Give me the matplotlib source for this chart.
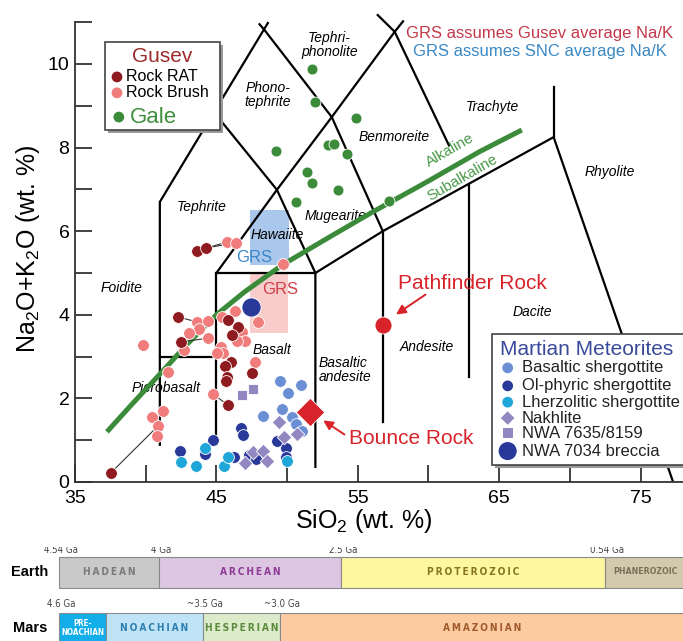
import numpy as np
import matplotlib
matplotlib.use("Agg")
import matplotlib.pyplot as plt
from matplotlib.patches import Rectangle

plt.rcParams['font.family'] = ['Liberation Sans', 'DejaVu Sans']
plt.rcParams['mathtext.fontset'] = 'custom'
plt.rcParams['mathtext.rm'] = 'Liberation Sans'
plt.rcParams['mathtext.it'] = 'Liberation Sans:italic'

# ---- data (SiO2 wt.%, Na2O+K2O wt.%) ----
gale_sio2 = [51.75, 51.96, 49.20, 52.88, 53.30, 54.86, 54.22, 51.40, 51.75, 53.59, 50.62, 57.19]
gale_alk = [9.88, 9.09, 7.92, 8.06, 8.09, 8.71, 7.85, 7.42, 7.15, 6.99, 6.70, 6.72]

rat_sio2 = [42.28, 42.49, 45.81, 46.52, 46.10, 46.02, 45.60, 45.74, 45.67, 47.51, 45.81, 37.54, 43.62, 44.26]
rat_alk = [3.95, 3.35, 3.88, 3.71, 3.52, 2.87, 2.78, 2.51, 2.42, 2.61, 1.84, 0.22, 5.53, 5.60]

brush_sio2 = [43.62, 44.40, 43.76, 43.06, 44.40, 42.70, 41.57, 39.81, 44.75, 46.31, 45.39, 46.80, 47.01,
              46.45, 45.32, 45.46, 45.04, 47.72, 47.93, 41.22, 40.44, 40.87, 40.80, 45.74, 46.38, 49.70]
brush_alk = [3.83, 3.85, 3.66, 3.56, 3.44, 3.16, 2.63, 3.28, 2.11, 4.09, 3.95, 3.59, 3.37,
             3.37, 3.23, 3.09, 3.09, 2.87, 3.83, 1.70, 1.56, 1.34, 1.10, 5.74, 5.72, 5.22]

# RAT -> Brush tie lines (index into rat / brush lists)
ties = [(11, 21), (0, 0), (1, 4), (12, 23), (13, 24), (10, 8)]

bas_sio2 = [49.49, 50.97, 50.05, 49.63, 48.29, 50.34, 50.62, 51.04]
bas_alk = [2.42, 2.32, 2.13, 1.75, 1.58, 1.56, 1.39, 1.22]

olp_sio2 = [42.42, 44.19, 44.75, 46.73, 46.87, 46.24, 47.30, 47.79, 49.28, 49.91, 49.91]
olp_alk = [0.74, 0.67, 1.00, 1.29, 1.12, 0.60, 0.65, 0.55, 0.98, 0.81, 0.60]

lhz_sio2 = [42.49, 43.55, 44.19, 45.53, 45.81, 49.98]
lhz_alk = [0.48, 0.38, 0.81, 0.38, 0.60, 0.50]

nak_sio2 = [47.01, 47.58, 48.29, 48.57, 49.42, 49.77, 50.69]
nak_alk = [0.45, 0.72, 0.74, 0.50, 1.44, 1.08, 1.15]

nwa7635_sio2 = [46.80, 47.58]
nwa7635_alk = [2.08, 2.22]

nwa7034 = (47.44, 4.19)
pathfinder = (56.77, 3.76)
bounce = (51.60, 1.67)

# GRS ranges (x0, x1, y0, y1)
grs_snc = (47.37, 50.10, 5.19, 6.51)
grs_gusev = (47.37, 50.05, 3.56, 5.00)

# alkaline / subalkaline divide (Irvine & Baragar curve)
alk_line_x = [37.26, 39.0, 41.0, 43.0, 45.0, 47.0, 49.7, 53.0, 56.0, 60.0, 63.6, 66.6]
alk_line_y = [1.20, 1.85, 2.58, 3.32, 4.00, 4.55, 5.20, 5.86, 6.45, 7.20, 7.90, 8.42]

# TAS field boundaries (as drawn)
tas_lines = [
    [(41.0, 0.89), (41.0, 6.70), (48.64, 10.98)],
    [(41.0, 3.0), (45.0, 3.0)],
    [(45.0, 0.89), (45.0, 5.0), (52.0, 5.0)],
    [(52.0, 0.36), (52.0, 5.0), (56.77, 6.0), (68.85, 8.25), (77.3, 0.0)],
    [(56.77, 1.44), (56.77, 6.0)],
    [(62.84, 2.51), (62.84, 7.13)],
    [(68.85, 8.25), (68.85, 9.45)],
    [(45.0, 5.0), (49.28, 6.99), (53.16, 8.73), (57.61, 10.77), (58.2, 11.02)],
    [(44.82, 8.85), (49.28, 6.99), (52.0, 5.0)],
    [(48.05, 10.95), (48.43, 10.80), (53.16, 8.73), (56.77, 6.0)],
    [(56.41, 11.17), (57.61, 10.77), (61.45, 8.05)],
]

field_names = ["Tephri-\nphonolite", "Phono-\ntephrite", "Tephrite", "Hawaiite", "Mugearite",
               "Benmoreite", "Trachyte", "Rhyolite", "Dacite", "Andesite", "Basalt",
               "Foidite", "Picrobasalt"]
field_x = [53.0, 48.64, 43.97, 49.28, 53.4, 57.54, 64.54, 72.8, 67.37, 59.9, 48.92, 38.32, 41.43]
field_y = [10.45, 9.26, 6.58, 5.91, 6.36, 8.25, 8.97, 7.42, 4.07, 3.23, 3.16, 4.64, 2.25]

# geologic timelines (schematic bar widths)
earth_eons = ["HADEAN", "ARCHEAN", "PROTEROZOIC", "PHANEROZOIC"]
earth_ages = ["4.54 Ga", "4 Ga", "2.5 Ga", "0.54 Ga"]
earth_span = [100, 182, 264, 80]
earth_fill = ["#c9c9c9", "#dcc6e2", "#fdf7a0", "#d3c9ad"]
earth_ink = ["#7a7a7a", "#8e3a96", "#857520", "#7a6e58"]

mars_eons = ["PRE-\nNOACHIAN", "NOACHIAN", "HESPERIAN", "AMAZONIAN"]
mars_ages = ["4.6 Ga", "", "~3.5 Ga", "~3.0 Ga"]
mars_span = [47, 97, 77, 405]
mars_fill = ["#11aeea", "#bfe4f7", "#dcebc9", "#fccba2"]
mars_ink = ["white", "#2d7fae", "#5b8a3e", "#a05a2c"]

C_RAT = "#8e1b1f"
C_BRUSH = "#f07c7c"
C_GALE = "#3b8b3b"
C_BAS = "#6b8fd4"
C_OLP = "#28399a"
C_LHZ = "#1fa6d8"
C_NAK = "#9387c2"
C_RED = "#d8232a"

fig = plt.figure(figsize=(6.83, 6.41), dpi=100)
ax = fig.add_axes([75 / 683, 159 / 641, 608 / 683, 482 / 641])
ax.set_xlim(35, 78)
ax.set_ylim(0, 11.53)

for s in ["top", "right"]:
    ax.spines[s].set_visible(False)
for s in ["left", "bottom"]:
    ax.spines[s].set_linewidth(1.3)
    ax.spines[s].set_color("#333333")
ax.spines["left"].set_bounds(0, 11)

xt = np.arange(35, 80, 5)
ax.set_xticks(xt)
ax.set_xticklabels([str(v) if (v - 35) % 10 == 0 else "" for v in xt])
yt = np.arange(0, 12)
ax.set_yticks(yt)
ax.set_yticklabels([str(v) if v % 2 == 0 else "" for v in yt])
ax.tick_params(direction="in", length=12, width=1.3, color="#333333", labelsize=14)
ax.tick_params(axis="x", pad=6)
ax.tick_params(axis="y", pad=4)

# GRS boxes
x0, x1, y0, y1 = grs_snc
ax.add_patch(Rectangle((x0, y0), x1 - x0, y1 - y0, facecolor="#aac8ec", edgecolor="none", zorder=1))
x0, x1, y0, y1 = grs_gusev
ax.add_patch(Rectangle((x0, y0), x1 - x0, y1 - y0, facecolor="#f9cccc", edgecolor="none", zorder=1))
ax.text(47.7, 5.38, "GRS", color="#3a86c8", fontsize=12, ha="center", va="center", zorder=2)
ax.text(49.5, 4.6, "GRS", color="#d0404a", fontsize=12, ha="center", va="center", zorder=2)

for seg in tas_lines:
    xs, ys = zip(*seg)
    ax.plot(xs, ys, color="black", lw=1.6, zorder=2, solid_joinstyle="miter")

for name, fx, fy in zip(field_names, field_x, field_y):
    ax.text(fx, fy, name, fontsize=10, style="italic", ha="center", va="center",
            linespacing=0.95, zorder=3)
ax.text(52.2, 2.68, "Basaltic\nandesite", fontsize=10, style="italic", ha="left",
        va="center", linespacing=0.95, zorder=3)

ax.plot(alk_line_x, alk_line_y, color=C_GALE, lw=3.6, zorder=3, solid_capstyle="butt",
        solid_joinstyle="round")
ax.text(61.5, 7.94, "Alkaline", color="#4a9a4a", fontsize=11, rotation=30,
        ha="center", va="center", zorder=3)
ax.text(62.42, 7.28, "Subalkaline", color="#4a9a4a", fontsize=11, rotation=30,
        ha="center", va="center", zorder=3)

# tie lines
for r, b in ties:
    ax.plot([rat_sio2[r], brush_sio2[b]], [rat_alk[r], brush_alk[b]], color="#333333",
            lw=0.8, zorder=3.5)

pt = dict(edgecolors="white", linewidths=0.6, zorder=4)
ax.scatter(brush_sio2, brush_alk, s=72, c=C_BRUSH, **pt)
ax.scatter(rat_sio2, rat_alk, s=72, c=C_RAT, **pt)
ax.scatter(gale_sio2, gale_alk, s=62, c=C_GALE, **pt)
ax.scatter(bas_sio2, bas_alk, s=72, c=C_BAS, **pt)
ax.scatter(olp_sio2, olp_alk, s=72, c=C_OLP, **pt)
ax.scatter(lhz_sio2, lhz_alk, s=72, c=C_LHZ, **pt)
ax.scatter(nak_sio2, nak_alk, s=55, c=C_NAK, marker="D", **pt)
ax.scatter(nwa7635_sio2, nwa7635_alk, s=60, c=C_NAK, marker="s", **pt)
ax.scatter([nwa7034[0]], [nwa7034[1]], s=190, c=C_OLP, **pt)
ax.scatter([pathfinder[0]], [pathfinder[1]], s=150, c=C_RED, **pt)
ax.scatter([bounce[0]], [bounce[1]], s=210, c=C_RED, marker="D", **pt)

# rock callouts
ax.annotate("", xy=(57.54, 3.97), xytext=(59.95, 4.52),
            arrowprops=dict(arrowstyle="-|>", color=C_RED, lw=1.4, mutation_scale=14), zorder=5)
ax.text(63.13, 4.76, "Pathfinder Rock", color=C_RED, fontsize=15, ha="center", va="center")
ax.annotate("", xy=(52.39, 1.51), xytext=(54.22, 1.10),
            arrowprops=dict(arrowstyle="-|>", color=C_RED, lw=1.4, mutation_scale=14), zorder=5)
ax.text(58.78, 1.05, "Bounce Rock", color=C_RED, fontsize=15, ha="center", va="center")

ax.text(67.86, 10.74, "GRS assumes Gusev average Na/K", color="#c4394a", fontsize=12,
        ha="center", va="center")
ax.text(67.86, 10.29, "GRS assumes SNC average Na/K", color="#3a88c4", fontsize=12,
        ha="center", va="center")

# Gusev / Gale legend box
ax.add_patch(Rectangle((37.32, 8.34), 8.13, 2.11, facecolor="#9a9a9a", edgecolor="none", zorder=6))
ax.add_patch(Rectangle((37.12, 8.42), 8.13, 2.11, facecolor="white", edgecolor="#444444",
                       lw=1.2, zorder=6.5))
ax.text(41.15, 10.17, "Gusev", color="#9b2a2a", fontsize=15, ha="center", va="center", zorder=7)
ax.scatter([37.97], [9.69], s=60, c=C_RAT, zorder=7, edgecolors="none")
ax.text(38.6, 9.69, "Rock RAT", fontsize=11.5, ha="left", va="center", zorder=7)
ax.scatter([37.97], [9.31], s=60, c=C_BRUSH, zorder=7, edgecolors="none")
ax.text(38.6, 9.31, "Rock Brush", fontsize=11.5, ha="left", va="center", zorder=7)
ax.scatter([38.1], [8.73], s=60, c=C_GALE, zorder=7, edgecolors="none")
ax.text(38.85, 8.73, "Gale", color="#3f8f3f", fontsize=16, ha="left", va="center", zorder=7)

# Martian meteorite legend box
ax.add_patch(Rectangle((64.67, 0.33), 14, 3.13, facecolor="#9a9a9a", edgecolor="none", zorder=6))
ax.add_patch(Rectangle((64.47, 0.41), 14, 3.13, facecolor="white", edgecolor="#444444",
                       lw=1.2, zorder=6.5))
ax.text(65.03, 3.16, "Martian Meteorites", color="#3a4a9a", fontsize=15, ha="left",
        va="center", zorder=7)
leg_items = [("Basaltic shergottite", C_BAS, "o", 60),
             ("Ol-phyric shergottite", C_OLP, "o", 60),
             ("Lherzolitic shergottite", C_LHZ, "o", 60),
             ("Nakhlite", C_NAK, "D", 48),
             ("NWA 7635/8159", C_NAK, "s", 50),
             ("NWA 7034 breccia", C_OLP, "o", 170)]
leg_y = [2.73, 2.30, 1.91, 1.53, 1.17, 0.74]
for (lab, col, mk, sz), ly in zip(leg_items, leg_y):
    ax.scatter([65.6], [ly], s=sz, c=col, marker=mk, zorder=7, edgecolors="none")
    ax.text(66.6, ly, lab, fontsize=12, color="#222222", ha="left", va="center", zorder=7)

fig.text(364 / 683, 1 - 521 / 641, "SiO$_2$ (wt. %)", fontsize=18, ha="center", va="center")
fig.text(28 / 683, 1 - 249 / 641, "Na$_2$O+K$_2$O (wt. %)", fontsize=18, ha="center",
         va="center", rotation=90)

# ---- geologic time bars ----
tl = fig.add_axes([0, 0, 1, 94 / 641])
tl.set_xlim(0, 683)
tl.set_ylim(641, 547)
tl.axis("off")

cond = dict(family="DejaVu Sans", fontstretch="condensed")


def time_bar(y, h, spans, fills, inks, names, ages, age_y, label):
    starts = 59 + np.concatenate([[0], np.cumsum(spans)[:-1]])
    tl.barh(y, spans, left=starts, height=h, color=fills, edgecolor="#8a8a8a", lw=0.8)
    for st, sp, nm, ink in zip(starts, spans, names, inks):
        cx = st + sp / 2
        if "\n" in nm:
            tl.text(cx, y, nm, fontsize=5.8, color=ink, ha="center", va="center",
                    fontweight="bold", linespacing=1.0, **cond)
        elif nm == "PHANEROZOIC":
            tl.text(cx, y, nm, fontsize=6.3, color=ink, ha="center", va="center",
                    fontweight="bold", **cond)
        else:
            tl.text(cx, y, "\u2009".join(nm), fontsize=7.3, color=ink, ha="center",
                    va="center", fontweight="bold", **cond)
    for st, ag in zip(starts, ages):
        if ag:
            tl.text(st + 2, age_y, ag, fontsize=7, color="#444444", ha="center",
                    va="center", clip_on=True, **cond)
    tl.text(30, y, label, fontsize=10.5, fontweight="bold", ha="center", va="center")


time_bar(572, 31, earth_span, earth_fill, earth_ink, earth_eons, earth_ages, 550, "Earth")
time_bar(628, 31, mars_span, mars_fill, mars_ink, mars_eons, mars_ages, 604, "Mars")

fig.savefig("out.png", dpi=100, facecolor="white")
